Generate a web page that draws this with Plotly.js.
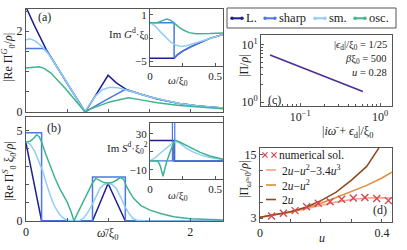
<!DOCTYPE html>
<html><head><meta charset="utf-8">
<script src="https://cdn.plot.ly/plotly-3.0.1.min.js"></script>
<style>html,body{margin:0;padding:0;background:#fff;}#plot{width:407px;height:250px;}</style>
</head><body><div id="plot"></div>
<script>
// ---------- data ----------
const seriesNames = ['L.', 'sharp', 'sm.', 'osc.'];
// panel (a): |Re Pi_0^G / rho| vs omega-bar/xi0
const aX_L = [0, 0.1, 0.25, 0.5, 0.72, 0.86, 1.0, 1.1, 1.23, 1.4, 1.6, 1.87, 2.1, 2.4];
const aY_L = [2.6, 2.15, 1.53, 0.73, 0, 0.45, 0.91, 0.72, 0.55, 0.44, 0.32, 0.21, 0.15, 0.1];
const aX_sharp = [0, 0.2, 0.25, 0.5, 0.72, 0.96, 1.2, 1.3, 1.5, 1.7, 1.87, 2.1, 2.4];
const aY_sharp = [1.57, 1.57, 1.53, 0.73, 0, 0.28, 0.55, 0.5, 0.38, 0.28, 0.21, 0.15, 0.1];
const aX_sm = [0, 0.05, 0.12, 0.2, 0.28, 0.5, 0.65, 0.72, 0.78, 0.85, 0.93, 1.02, 1.12, 1.22, 1.3, 1.5, 1.7, 1.87, 2.1, 2.4];
const aY_sm = [1.79, 1.81, 1.75, 1.61, 1.42, 0.73, 0.22, 0.02, 0.2, 0.4, 0.55, 0.61, 0.6, 0.55, 0.5, 0.38, 0.28, 0.21, 0.15, 0.1];
const aX_osc = [0, 0.08, 0.16, 0.22, 0.3, 0.48, 0.6, 0.72, 0.78, 0.9, 1.02, 1.15, 1.25, 1.4, 1.6, 1.87, 2.1, 2.4];
const aY_osc = [1.09, 1.1, 1.12, 1.08, 0.97, 0.58, 0.3, 0.0, 0.07, 0.17, 0.25, 0.31, 0.35, 0.3, 0.23, 0.16, 0.12, 0.08];
// panel (b): |Re Pi_0^S xi0 / rho|
const bX_L = [0, 0.19, 0.81, 1.0, 1.21, 2.4];
const bY_L = [4.3, 0, 0, 2.07, 0, 0];
const bX_sharp = [0, 0.19, 0.19, 0.81, 0.81, 1.21, 1.21, 2.4];
const bY_sharp = [4.87, 4.87, 0, 0, 2.43, 2.43, 0, 0];
const bX_sm = [0, 0.05, 0.1, 0.15, 0.2, 0.25, 0.3, 0.35, 0.4, 0.45, 0.5, 0.55, 0.65, 0.7, 0.75, 0.8, 0.85, 0.9, 0.95, 1.0, 1.05, 1.1, 1.15, 1.2, 1.25, 1.3, 1.35, 1.45, 2.4];
const bY_sm = [4.36, 4.25, 3.9, 3.35, 2.8, 2.05, 1.35, 0.8, 0.42, 0.17, 0.05, 0.01, 0.02, 0.15, 0.45, 0.85, 1.35, 1.8, 2.02, 2.07, 2.02, 1.8, 1.35, 0.85, 0.45, 0.15, 0.04, 0.01, 0];
const bX_osc = [0, 0.05, 0.1, 0.13, 0.16, 0.19, 0.24, 0.29, 0.35, 0.41, 0.46, 0.5, 0.55, 0.585, 0.62, 0.66, 0.7, 0.75, 0.81, 0.85, 0.9, 0.95, 1.0, 1.05, 1.1, 1.15, 1.19, 1.23, 1.27, 1.31, 1.4, 1.51, 1.65, 1.8, 2.0, 2.24, 2.4];
const bY_osc = [4.36, 4.4, 4.6, 4.76, 4.65, 4.36, 3.7, 3.08, 2.4, 1.8, 1.35, 1.06, 0.5, 0.0, 0.35, 0.7, 1.06, 1.55, 2.1, 2.35, 2.25, 2.12, 2.1, 2.12, 2.25, 2.4, 2.3, 1.85, 1.55, 1.25, 0.85, 0.6, 0.4, 0.24, 0.12, 0.08, 0.06];
// inset (a): Im G^d xi0 vs omega/xi0
const iaX_L = [0, 0.185, 0.21, 0.25, 0.31, 0.38, 0.46, 0.56];
const iaY_L = [-4.65, -4.65, -4.2, -3.7, -3.15, -2.6, -2.05, -1.55];
const iaX_sharp = [0, 0.185, 0.185, 0.21, 0.25, 0.31, 0.38, 0.46, 0.56];
const iaY_sharp = [0, 0, -4.65, -4.2, -3.7, -3.15, -2.6, -2.05, -1.55];
const iaX_sm = [0, 0.04, 0.08, 0.12, 0.16, 0.2, 0.24, 0.28, 0.33, 0.4, 0.46, 0.56];
const iaY_sm = [0, -0.45, -1.2, -1.9, -2.55, -2.95, -3.1, -3.0, -2.75, -2.35, -2.0, -1.55];
const iaX_osc = [0, 0.06, 0.1, 0.128, 0.16, 0.185, 0.22, 0.256, 0.3, 0.35, 0.4, 0.46, 0.56];
const iaY_osc = [0, 0.02, 0.3, 0.48, 0.3, -0.1, -0.55, -0.96, -1.3, -1.45, -1.48, -1.42, -1.35];
// inset (b): Im S^d xi0^2 vs omega/xi0
const ibX_L = [0, 0.185, 0.185, 0.56];
const ibY_L = [22.6, 22.6, 0, 0];
const ibX_sharp = [0, 0.172, 0.172, 0.19, 0.19, 0.56];
const ibY_sharp = [0, 0, 80, 80, 0, 0];
const ibX_sm = [0, 0.04, 0.077, 0.12, 0.154, 0.18, 0.205, 0.23, 0.28, 0.33, 0.385, 0.46, 0.56];
const ibY_sm = [0, 3.5, 8.5, 13.5, 17.8, 20.5, 21.5, 19.5, 14, 10, 6.7, 3.8, 1.5];
const ibX_osc = [0, 0.06, 0.08, 0.1, 0.115, 0.13, 0.16, 0.19, 0.22, 0.28, 0.33, 0.385, 0.46, 0.56];
const ibY_osc = [0, 0, -6, -17, -8, 0, 12, 23, 21.5, 17, 13, 9.5, 5.5, 1.8];
// panel (c): |Pi/rho| vs |i omega + eps_d|/xi0 (log-log)
const cX = [0.042, 0.07, 0.1, 0.15, 0.2, 0.3, 0.4, 0.5, 0.61];
const cY = [6.7, 5.05, 4.15, 3.3, 2.85, 2.25, 1.95, 1.7, 1.53];
// panel (d): |Pi_{omega=0}/rho| vs u
const dU_num = [0.038, 0.077, 0.115, 0.153, 0.191, 0.23, 0.268, 0.306, 0.344, 0.383, 0.421];
const dY_num = [3.38, 3.9, 4.4, 5.15, 5.8, 6.1, 6.55, 6.8, 6.9, 6.7, 6.3];
const dU = [0, 0.05, 0.1, 0.15, 0.2, 0.25, 0.3, 0.35, 0.4, 0.433];
const dY_cubic = [3.15, 3.6, 4.1, 4.75, 5.45, 6.05, 6.5, 6.78, 6.85, 6.75];
const dY_quad = [3.15, 3.6, 4.15, 4.9, 5.8, 6.9, 8.0, 9.2, 10.6, 11.7];
const dU_lin = [0, 0.05, 0.1, 0.15, 0.2, 0.25, 0.3, 0.35, 0.4];
const dY_lin = [3.15, 3.65, 4.2, 5.05, 6.3, 7.9, 10.2, 12.8, 17.2];
const dLabels = ['numerical sol.', '2<i>u</i>−<i>u</i><sup>2</sup>−3.4<i>u</i><sup>3</sup>', '2<i>u</i>−<i>u</i><sup>2</sup>', '2<i>u</i>'];

// ---------- style ----------
const F = 'Liberation Serif, DejaVu Serif, serif';
const COL = {L: '#1d1f8c', sharp: '#4a78e6', sm: '#90cdf6', osc: '#3fb38f'};
const CC = '#4c2d96';
const DC = {num: '#d84250', cubic: '#f6a284', quad: '#de8d3a', lin: '#8b4a1f'};
const W = 407, H = 250;
const fx = p => p / W, fy = p => 1 - p / H;

function ln(x, y, xa, ya, color, width) {
  return {x: x, y: y, xaxis: xa, yaxis: ya, type: 'scatter', mode: 'lines',
    line: {color: color, width: width || 1.5}, hoverinfo: 'skip', showlegend: false};
}
const traces = [
  ln(aX_L, aY_L, 'x', 'y', COL.L), ln(aX_sharp, aY_sharp, 'x', 'y', COL.sharp),
  ln(aX_sm, aY_sm, 'x', 'y', COL.sm), ln(aX_osc, aY_osc, 'x', 'y', COL.osc),
  ln(bX_L, bY_L, 'x2', 'y2', COL.L), ln(bX_sharp, bY_sharp, 'x2', 'y2', COL.sharp),
  ln(bX_sm, bY_sm, 'x2', 'y2', COL.sm), ln(bX_osc, bY_osc, 'x2', 'y2', COL.osc),
  ln(iaX_L, iaY_L, 'x3', 'y3', COL.L), ln(iaX_sharp, iaY_sharp, 'x3', 'y3', COL.sharp),
  ln(iaX_sm, iaY_sm, 'x3', 'y3', COL.sm), ln(iaX_osc, iaY_osc, 'x3', 'y3', COL.osc),
  ln(ibX_L, ibY_L, 'x4', 'y4', COL.L), ln(ibX_sharp, ibY_sharp, 'x4', 'y4', COL.sharp, 1.2),
  ln(ibX_sm, ibY_sm, 'x4', 'y4', COL.sm), ln(ibX_osc, ibY_osc, 'x4', 'y4', COL.osc),
  ln(cX, cY, 'x5', 'y5', CC, 1.6),
  ln(dU, dY_cubic, 'x6', 'y6', DC.cubic), ln(dU, dY_quad, 'x6', 'y6', DC.quad),
  ln(dU_lin, dY_lin, 'x6', 'y6', DC.lin),
  {x: dU_num, y: dY_num, xaxis: 'x6', yaxis: 'y6', type: 'scatter', mode: 'markers',
   marker: {symbol: 'x-thin', size: 7, color: DC.num, line: {width: 1.3, color: DC.num}},
   hoverinfo: 'skip', showlegend: false}
];

const base = {showline: true, linecolor: '#555', linewidth: 1, mirror: true, ticks: 'inside',
  ticklen: 3, tickcolor: '#555', showgrid: false, zeroline: false, fixedrange: true,
  tickfont: {family: F, size: 12, color: '#222'}};
const small = Object.assign({}, base, {tickfont: {family: F, size: 11, color: '#222'}});
function ax(o, b) { return Object.assign({}, b || base, o); }
function mn(vals, len) { return {ticks: 'inside', ticklen: len || 3, tickcolor: '#555', tickvals: vals}; }

const layout = {
  width: W, height: H, margin: {l: 0, r: 0, t: 0, b: 0},
  paper_bgcolor: '#fff', plot_bgcolor: '#fff', showlegend: false,
  font: {family: F, size: 12, color: '#222'},
  xaxis: ax({domain: [fx(26), fx(223)], anchor: 'y', range: [0, 2.4], tickvals: [0, 0.5, 1, 1.5, 2], showticklabels: false}),
  yaxis: ax({domain: [fy(112), fy(9)], anchor: 'x', range: [0, 2.55], tickvals: [0, 2], ticktext: ['0', '2'], minor: mn([0.5, 1, 1.5, 2.5])}),
  xaxis2: ax({domain: [fx(26), fx(223)], anchor: 'y2', range: [0, 2.4], tickvals: [0, 2], ticktext: ['0', '2'], minor: mn([0.5, 1, 1.5])}),
  yaxis2: ax({domain: [fy(221), fy(116.5)], anchor: 'x2', range: [0, 5.77], tickvals: [0, 5], ticktext: ['0', '5'], minor: mn([1, 2, 3, 4])}),
  xaxis3: ax({domain: [fx(150), fx(223)], anchor: 'y3', range: [0, 0.56], tickvals: [0, 0.5], ticktext: ['0', '0.5'], minor: mn([0.25])}, small),
  yaxis3: ax({domain: [fy(66), fy(9)], anchor: 'x3', range: [-5.65, 1.78], tickvals: [1, -5], ticktext: ['1', '−5'], minor: mn([-2])}, small),
  xaxis4: ax({domain: [fx(150), fx(223)], anchor: 'y4', range: [0, 0.56], tickvals: [0, 0.5], ticktext: ['0', '0.5'], minor: mn([0.25])}, small),
  yaxis4: ax({domain: [fy(179), fy(123)], anchor: 'x4', range: [-20, 42], tickvals: [30, -10], ticktext: ['30', '−10'], minor: mn([10])}, small),
  xaxis5: ax({domain: [fx(261), fx(392)], anchor: 'y5', type: 'log', range: [-1.49, 0.15], tickvals: [0.1, 1], ticktext: ['10<sup>−1</sup>', '10<sup>0</sup>'],
    minor: mn([0.04, 0.05, 0.06, 0.07, 0.08, 0.09, 0.2, 0.3, 0.4, 0.5, 0.6, 0.7, 0.8, 0.9], 2)}),
  yaxis5: ax({domain: [fy(106), fy(35)], anchor: 'x5', type: 'log', range: [-0.07, 1.175], tickvals: [1, 10], ticktext: ['10<sup>0</sup>', '10<sup>1</sup>'],
    minor: mn([2, 3, 4, 5, 6, 7, 8, 9], 2)}),
  xaxis6: ax({domain: [fx(260), fx(392)], anchor: 'y6', range: [0, 0.433], tickvals: [0, 0.4], ticktext: ['0', '0.4'], minor: mn([0.1, 0.2, 0.3])}),
  yaxis6: ax({domain: [fy(222), fy(148)], anchor: 'x6', range: [2.24, 16.3], tickvals: [3, 15], ticktext: ['3', '15'], minor: mn([6, 9, 12])}),
  shapes: [], annotations: []
};

function note(text, x, y, o) {
  layout.annotations.push(Object.assign({text: text, xref: 'paper', yref: 'paper', x: fx(x), y: fy(y),
    showarrow: false, xanchor: 'center', yanchor: 'middle', font: {family: F, size: 12, color: '#222'}}, o || {}));
}
// panel labels
note('(a)', 44, 17);
note('(b)', 54, 128);
note('(c)', 274, 100);
note('(d)', 380, 210);
// axis titles
note('|Re Π<sup><i>G</i></sup><sub>0</sub>/<i>ρ</i>|', 9, 58, {textangle: -90});
note('|Re Π<sup><i>S</i></sup><sub>0</sub> ξ<sub>0</sub>/<i>ρ</i>|', 9, 171, {textangle: -90});
note('<i>ω̄</i>/ξ<sub>0</sub>', 108, 234);
note('Im <i>G</i><sup>d</sup>·ξ<sub>0</sub>', 150, 34, {xanchor: 'right', font: {family: F, size: 11, color: '#222'}});
note('Im <i>S</i><sup>d</sup>·ξ<sub>0</sub><sup>2</sup>', 150, 148, {xanchor: 'right', font: {family: F, size: 11, color: '#222'}});
note('<i>ω</i>/ξ<sub>0</sub>', 178, 81, {font: {family: F, size: 11, color: '#222'}});
note('<i>ω</i>/ξ<sub>0</sub>', 178, 196, {font: {family: F, size: 11, color: '#222'}});
note('|Π/<i>ρ</i>|', 244, 65, {textangle: -90});
note('|<i>iω̄</i> + <i>ϵ</i><sub>d</sub>|/ξ<sub>0</sub>', 347, 132);
note('|Π<sub><i>ω̄</i>=0</sub>/<i>ρ</i>|', 245, 180, {textangle: -90});
note('<i>u</i>', 322, 238);
// panel (c) parameters
const cPar = ['|<i>ϵ</i><sub>d</sub>|/ξ<sub>0</sub> = 1/25', '<i>β</i>ξ<sub>0</sub> = 500', '<i>u</i> = 0.28'];
[46, 59, 72].forEach((y, i) => note(cPar[i], 389, y, {xanchor: 'right', font: {family: F, size: 10.5, color: '#222'}}));

// top legend (manual)
layout.shapes.push({type: 'rect', xref: 'paper', yref: 'paper', x0: fx(227), x1: fx(396), y0: fy(28), y1: fy(8), line: {color: '#555', width: 1}, fillcolor: '#fff'});
const legX = [[232, 242, 244], [265, 275, 277], [315, 325, 327], [355, 365, 367]];
const legC = [COL.L, COL.sharp, COL.sm, COL.osc];
legX.forEach((p, i) => {
  const yy = 18.3;
  layout.shapes.push({type: 'line', xref: 'paper', yref: 'paper', x0: fx(p[0]), x1: fx(p[1]), y0: fy(yy), y1: fy(yy), line: {color: legC[i], width: 2}});
  [p[0], p[1]].forEach(cx => layout.shapes.push({type: 'circle', xref: 'paper', yref: 'paper', x0: fx(cx - 1.7), x1: fx(cx + 1.7), y0: fy(yy + 1.7), y1: fy(yy - 1.7), line: {width: 0}, fillcolor: legC[i]}));
  note(seriesNames[i], p[2], yy, {xanchor: 'left', font: {family: F, size: 12.5, color: '#222'}});
});
// panel (d) legend (manual)
const dRows = [155, 170, 185, 199.5];
const dCols = [DC.num, DC.cubic, DC.quad, DC.lin];
[265, 274].forEach(cx => {
  const s = 2.6, yy = dRows[0];
  layout.shapes.push({type: 'line', xref: 'paper', yref: 'paper', x0: fx(cx - s), x1: fx(cx + s), y0: fy(yy - s), y1: fy(yy + s), line: {color: DC.num, width: 1.2}});
  layout.shapes.push({type: 'line', xref: 'paper', yref: 'paper', x0: fx(cx - s), x1: fx(cx + s), y0: fy(yy + s), y1: fy(yy - s), line: {color: DC.num, width: 1.2}});
});
for (let i = 1; i < 4; i++) {
  layout.shapes.push({type: 'line', xref: 'paper', yref: 'paper', x0: fx(266), x1: fx(276), y0: fy(dRows[i]), y1: fy(dRows[i]), line: {color: dCols[i], width: 1.6}});
}
dRows.forEach((y, i) => note(dLabels[i], i === 0 ? 277 : 280, y, {xanchor: 'left', font: {family: F, size: 11.5, color: '#222'}}));

Plotly.newPlot('plot', traces, layout, {staticPlot: true, displayModeBar: false});
</script>
</body></html>
